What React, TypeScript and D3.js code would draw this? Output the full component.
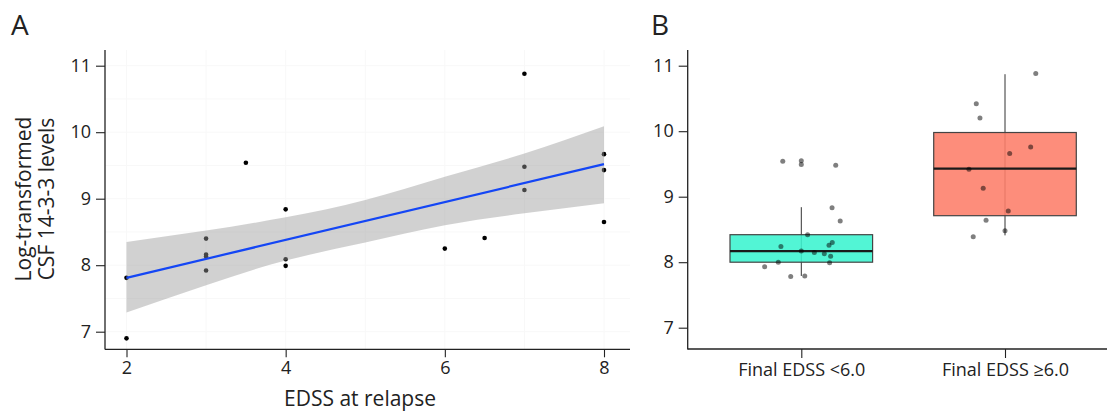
import React, { useEffect, useRef } from 'react'
import * as d3 from 'd3'

// Panel A: EDSS at relapse vs log CSF 14-3-3
const edssA = [2, 2, 3, 3, 3, 3, 3.5, 4, 4, 4, 6, 6.5, 7, 7, 7, 8, 8, 8]
const csfA = [7.81, 6.9, 8.4, 8.16, 8.13, 7.92, 9.54, 8.84, 8.09, 7.99, 8.25, 8.41, 10.88, 9.48, 9.13, 9.67, 9.43, 8.65]
const fitX = [2, 8]
const fitY = [7.81, 9.52]
const bandX = [2, 3, 4, 5, 6, 7, 8]
const bandLow = [7.29, 7.7, 8.07, 8.34, 8.6, 8.78, 8.93]
const bandHigh = [8.35, 8.52, 8.72, 8.98, 9.33, 9.68, 10.09]
const xTicksA = [2, 4, 6, 8]
const yTicks = [7, 8, 9, 10, 11]

// Panel B: boxplots by final EDSS
const groups = ['Final EDSS <6.0', 'Final EDSS \u22656.0']
const groupColors = ['#3af4cf', '#fd7d69']
const whiskerLow = [7.79, 8.41]
const q1 = [8.0, 8.71]
const median = [8.17, 9.43]
const q3 = [8.42, 9.98]
const whiskerHigh = [8.84, 10.87]
const lowValues = [9.54, 9.55, 9.49, 9.48, 8.83, 8.63, 8.42, 8.24, 8.17, 8.15, 8.13, 8.26, 8.3, 8.09, 7.99, 8.0, 7.93, 7.78, 7.79]
const lowJitter = [-0.091, 0, 0, 0.169, 0.151, 0.191, 0.031, -0.1, 0, 0.064, 0.113, 0.136, 0.152, 0.144, 0.139, -0.113, -0.18, -0.052, 0.017]
const highValues = [10.88, 10.42, 10.2, 9.76, 9.66, 9.42, 9.13, 8.78, 8.64, 8.48, 8.39]
const highJitter = [0.151, -0.141, -0.123, 0.126, 0.023, -0.177, -0.107, 0.016, -0.093, 0, -0.156]

const FONT = '"Open Sans", "Noto Sans", sans-serif'
const INK = '#222'

function styleAxis(g) {
    g.select('.domain').remove()
    g.selectAll('.tick line').attr('stroke', INK).attr('stroke-width', 1.1)
    g.selectAll('.tick text').attr('fill', INK).attr('font-family', FONT).attr('font-size', 18)
}

function App() {
    const ref = useRef(null)

    useEffect(() => {
        const svg = d3.select(ref.current)
        svg.selectAll('*').remove()

        // ---------- Panel A ----------
        const xA = d3.scaleLinear().domain([2, 8]).range([126.5, 604])
        const yA = d3.scaleLinear().domain([7, 11]).range([331.7, 65.7])
        const a = svg.append('g')

        // grid, barely visible except under the ribbon
        a.selectAll('line.gv')
            .data(d3.range(2, 9, 1))
            .enter()
            .append('line')
            .attr('x1', d => xA(d)).attr('x2', d => xA(d))
            .attr('y1', 50).attr('y2', 349)
            .attr('stroke', '#f8f8f8').attr('stroke-width', 1)
        a.selectAll('line.gh')
            .data(d3.range(7, 11.01, 0.5))
            .enter()
            .append('line')
            .attr('x1', 105).attr('x2', 630)
            .attr('y1', d => yA(d)).attr('y2', d => yA(d))
            .attr('stroke', '#f8f8f8').attr('stroke-width', 1)

        a.selectAll('circle')
            .data(edssA)
            .enter()
            .append('circle')
            .attr('cx', d => xA(d))
            .attr('cy', (d, i) => yA(csfA[i]))
            .attr('r', 2.3)
            .attr('fill', '#000')

        const band = d3.area()
            .x((d, i) => xA(d))
            .y0((d, i) => yA(bandLow[i]))
            .y1((d, i) => yA(bandHigh[i]))
            .curve(d3.curveNatural)
        a.append('path')
            .attr('d', band(bandX))
            .attr('fill', '#999')
            .attr('fill-opacity', 0.45)

        const fit = d3.line().x(d => xA(d)).y((d, i) => yA(fitY[i]))
        a.append('path')
            .attr('d', fit(fitX))
            .attr('fill', 'none')
            .attr('stroke', '#1446f5')
            .attr('stroke-width', 2.2)

        a.append('line').attr('x1', 105).attr('x2', 105).attr('y1', 50).attr('y2', 349.5)
            .attr('stroke', INK).attr('stroke-width', 1.3)
        a.append('line').attr('x1', 105).attr('x2', 630).attr('y1', 349.3).attr('y2', 349.3)
            .attr('stroke', INK).attr('stroke-width', 1.3)

        a.append('g')
            .attr('transform', 'translate(105,0)')
            .call(d3.axisLeft(yA).tickValues(yTicks).tickSize(9).tickPadding(5).tickFormat(d3.format('d')))
            .call(styleAxis)
        a.append('g')
            .attr('transform', 'translate(0,349.3)')
            .call(d3.axisBottom(xA).tickValues(xTicksA).tickSize(8).tickPadding(4).tickFormat(d3.format('d')))
            .call(styleAxis)

        a.append('text')
            .attr('x', 360).attr('y', 406)
            .attr('text-anchor', 'middle')
            .attr('font-family', FONT).attr('font-size', 21).attr('fill', INK)
            .text('EDSS at relapse')
        const yt = a.append('text')
            .attr('transform', 'translate(0,199) rotate(-90)')
            .attr('text-anchor', 'middle')
            .attr('font-family', FONT).attr('font-size', 21).attr('fill', INK)
        yt.append('tspan').attr('x', 0).attr('y', 31).text('Log-transformed')
        yt.append('tspan').attr('x', 0).attr('y', 54).text('CSF 14-3-3 levels')

        a.append('text')
            .attr('x', 11).attr('y', 35)
            .attr('font-family', FONT).attr('font-size', 28).attr('fill', INK)
            .text('A')

        // ---------- Panel B ----------
        const xB = d3.scalePoint().domain(groups).range([801.3, 1005])
        const yB = d3.scaleLinear().domain([7, 11]).range([327.7, 65.7])
        const bw = xB.step() * 0.7
        const b = svg.append('g')

        groups.forEach((gName, i) => {
            const cx = xB(gName)
            b.append('line')
                .attr('x1', cx).attr('x2', cx)
                .attr('y1', yB(whiskerLow[i])).attr('y2', yB(whiskerHigh[i]))
                .attr('stroke', '#333').attr('stroke-width', 1)
            b.append('rect')
                .attr('x', cx - bw / 2).attr('width', bw)
                .attr('y', yB(q3[i])).attr('height', yB(q1[i]) - yB(q3[i]))
                .attr('fill', groupColors[i]).attr('fill-opacity', 0.88)
                .attr('stroke', '#444').attr('stroke-width', 1.2)
            b.append('line')
                .attr('x1', cx - bw / 2).attr('x2', cx + bw / 2)
                .attr('y1', yB(median[i])).attr('y2', yB(median[i]))
                .attr('stroke', '#1a1a1a').attr('stroke-width', 2.2)
        })

        const pts = [
            ...lowValues.map((v, i) => ({ g: groups[0], v, j: lowJitter[i] })),
            ...highValues.map((v, i) => ({ g: groups[1], v, j: highJitter[i] })),
        ]
        b.selectAll('circle')
            .data(pts)
            .enter()
            .append('circle')
            .attr('cx', d => xB(d.g) + d.j * xB.step())
            .attr('cy', d => yB(d.v))
            .attr('r', 2.5)
            .attr('fill', '#000')
            .attr('fill-opacity', 0.5)

        b.append('line').attr('x1', 687.7).attr('x2', 687.7).attr('y1', 50).attr('y2', 349.5)
            .attr('stroke', INK).attr('stroke-width', 1.3)
        b.append('line').attr('x1', 687.7).attr('x2', 1107).attr('y1', 349).attr('y2', 349)
            .attr('stroke', INK).attr('stroke-width', 1.3)

        b.append('g')
            .attr('transform', 'translate(687.7,0)')
            .call(d3.axisLeft(yB).tickValues(yTicks).tickSize(9).tickPadding(5).tickFormat(d3.format('d')))
            .call(styleAxis)
        b.append('g')
            .attr('transform', 'translate(0,349)')
            .call(d3.axisBottom(xB).tickSize(9).tickPadding(5))
            .call(styleAxis)

        b.append('text')
            .attr('x', 651).attr('y', 35)
            .attr('font-family', FONT).attr('font-size', 28).attr('fill', INK)
            .text('B')
    }, [])

    return (
        <svg
            ref={ref}
            width={1107}
            height={411}
            style={{ position: 'absolute', left: 0, top: 0, background: '#fff' }}
        />
    )
}

export default App
